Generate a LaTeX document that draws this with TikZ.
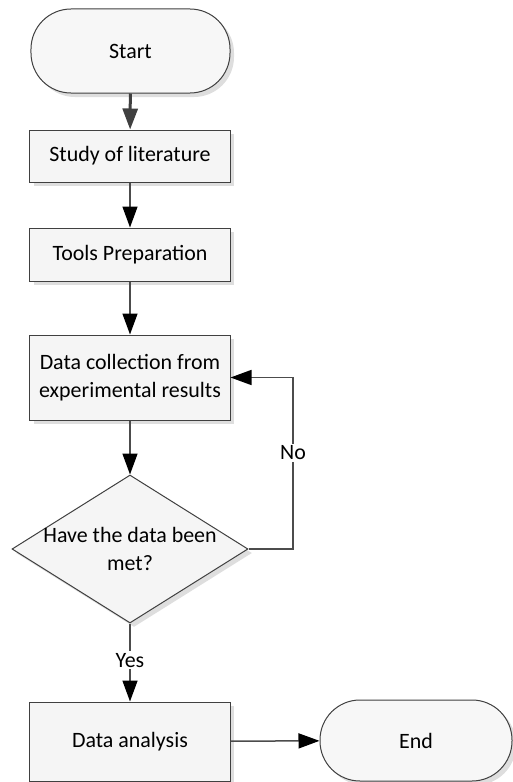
\documentclass[tikz,border=0pt]{standalone}
\usepackage{fontspec}
\setmainfont{Carlito}
\usetikzlibrary{arrows.meta,shapes.geometric,shadows}
\begin{document}
\begin{tikzpicture}[x=1bp,y=-1bp,
  font=\fontsize{22}{28}\selectfont,
  shad/.style={drop shadow={shadow xshift=4bp,shadow yshift=-4bp,fill=black!13,opacity=1}},
  box/.style={draw=black!75, line width=1bp, fill=black!4, minimum width=200bp, inner sep=2bp, align=center, shad},
  term/.style={draw=black!75, line width=1bp, fill=black!3, rounded corners=40bp, inner sep=2bp, shad},
  dec/.style={diamond, draw=black!75, line width=1bp, fill=black!4, minimum width=236bp, minimum height=148bp, inner sep=0pt, shad},
  arr/.style={draw=black!70, line width=1.5bp, -{Triangle[length=21bp,width=15bp,color=black]}},
  lbl/.style={fill=white, inner sep=2bp}
]
\useasboundingbox (0,0) rectangle (513,782);
\node[term, minimum width=199bp, minimum height=84bp] (start) at (130.5,51) {Start};
\node[box, minimum height=52bp] (study) at (130,156) {Study of literature};
\node[box, minimum height=53bp] (tools) at (130,254.5) {Tools Preparation};
\node[box, minimum height=85bp] (collect) at (130,377.5) {Data collection from\\experimental results};
\node[dec] (decide) at (130,549) {};
\node[align=center, inner sep=0pt] (dectext) at (130,549) {Have the data been\\met?};
\node[box, minimum height=79bp] (analysis) at (130,741.5) {Data analysis};
\node[term, minimum width=192bp, minimum height=81bp] (end) at (416,740.5) {End};
\coordinate (loop) at (293,549);

\draw[arr, line width=3bp, draw=black!75, -{Triangle[length=21bp,width=15bp,color=black!75]}] (start) -- (study);
\draw[arr] (study) -- (tools);
\draw[arr] (tools) -- (collect);
\draw[arr] (collect) -- (decide.north);
\draw[arr] (decide.east) -- (loop) |- node[lbl, pos=0.28] (no) {No} (collect.east);
\draw[arr] (decide.south) -- node[lbl, pos=0.47] (yes) {Yes} (analysis.north);
\draw[arr] (analysis) -- (end);
\end{tikzpicture}
\end{document}
